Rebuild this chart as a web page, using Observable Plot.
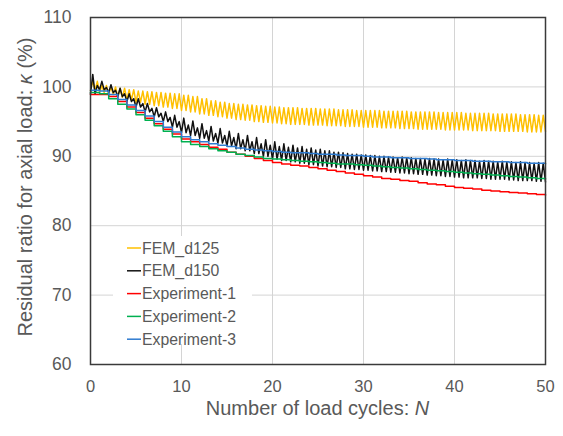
<!DOCTYPE html>
<html><head><meta charset="utf-8">
<script src="https://cdn.jsdelivr.net/npm/d3@7"></script>
<script src="https://cdn.jsdelivr.net/npm/@observablehq/plot@0.6"></script>
<style>html,body{margin:0;padding:0;background:#fff;}</style>
</head><body><div id="chart"></div>
<script>
// Load cycles N = 0..50
const cycles = [0,1,2,3,4,5,6,7,8,9,10,11,12,13,14,15,16,17,18,19,20,21,22,23,24,25,26,27,28,29,30,31,32,33,34,35,36,37,38,39,40,41,42,43,44,45,46,47,48,49,50];
const xTicks = [0,10,20,30,40,50];
const yTicks = [60,70,80,90,100,110];
const seriesNames = ["FEM_d125","FEM_d150","Experiment-1","Experiment-2","Experiment-3"];
const seriesColors = ["#FFC000","#111111","#FF0000","#00B050","#2E7BD0"];

// Experiments: residual ratio during each cycle (step lines)
const exp1 = [98.9,98.9,98.6,97.9,97.1,96.3,95.5,94.7,93.9,93.2,92.5,92.1,91.7,91.3,91.0,90.6,90.3,90.0,89.7,89.4,89.1,88.9,88.7,88.6,88.4,88.2,88.0,87.8,87.6,87.4,87.2,87.0,86.8,86.7,86.5,86.4,86.2,86.0,85.9,85.7,85.5,85.4,85.3,85.1,85.0,84.9,84.8,84.7,84.6,84.5,84.4];
const exp2 = [99.2,99.0,98.3,97.5,96.8,96.0,95.2,94.4,93.6,92.8,92.1,91.7,91.4,91.1,90.8,90.6,90.3,90.1,89.9,89.7,89.6,89.5,89.4,89.3,89.2,89.1,89.0,88.9,88.9,88.8,88.7,88.6,88.5,88.4,88.3,88.2,88.1,88.0,87.9,87.8,87.7,87.6,87.5,87.4,87.3,87.2,87.1,87.0,86.9,86.8,86.7];
const exp3 = [99.5,99.4,98.9,98.2,97.4,96.6,95.8,95.0,94.2,93.5,92.8,92.4,92.1,91.8,91.6,91.4,91.2,91.0,90.9,90.8,90.7,90.6,90.5,90.5,90.4,90.3,90.3,90.2,90.1,90.1,90.0,89.9,89.9,89.8,89.8,89.7,89.7,89.6,89.5,89.5,89.4,89.4,89.3,89.3,89.2,89.2,89.1,89.1,89.0,89.0,88.9];

// FEM_d125: per-cycle crest and trough values of the oscillation
const fem125Upper = [100.8,100.2,100.0,99.8,99.6,99.4,99.3,99.2,99.1,99.0,98.8,98.6,98.3,98.0,97.8,97.6,97.5,97.4,97.3,97.2,97.1,97.0,97.0,96.9,96.9,96.8,96.8,96.7,96.7,96.6,96.6,96.6,96.5,96.5,96.5,96.4,96.4,96.4,96.3,96.3,96.3,96.2,96.2,96.2,96.1,96.1,96.1,96.0,96.0,95.9,95.9];
const fem125Lower = [99.5,99.2,98.9,98.5,98.1,97.8,97.5,97.3,97.1,96.9,96.6,96.4,96.1,95.9,95.7,95.5,95.3,95.2,95.0,94.9,94.8,94.7,94.6,94.6,94.5,94.5,94.4,94.4,94.3,94.3,94.2,94.2,94.1,94.1,94.0,94.0,93.9,93.9,93.9,93.8,93.8,93.8,93.7,93.7,93.7,93.6,93.6,93.6,93.5,93.5,93.6];

// FEM_d150: per-cycle major crest, minor crest and trough
const fem150Major = [101.8,100.8,100.3,99.8,99.0,98.3,97.6,97.0,96.4,95.9,95.5,95.1,94.7,94.3,94.0,93.6,93.3,93.0,92.7,92.4,92.1,91.8,91.6,91.4,91.2,91.0,90.8,90.6,90.4,90.3,90.2,90.1,90.0,89.9,89.9,89.8,89.7,89.7,89.6,89.6,89.5,89.5,89.4,89.4,89.3,89.3,89.2,89.2,89.1,89.1,89.0];
const fem150Minor = [100.2,99.9,99.5,99.0,98.3,97.6,96.9,96.2,95.6,95.0,94.5,94.1,93.7,93.3,93.0,92.7,92.4,92.1,91.8,91.6,91.4,91.3,91.2,91.0,90.9,90.8,90.6,90.5,90.3,90.2,90.1,90.0,89.9,89.8,89.8,89.7,89.6,89.6,89.5,89.5,89.4,89.4,89.3,89.3,89.2,89.2,89.1,89.1,89.0,89.0,88.9];
const fem150Trough = [99.0,99.6,99.2,98.6,97.9,97.1,96.4,95.7,95.0,94.2,93.4,93.0,92.6,92.2,91.9,91.5,91.1,90.8,90.4,90.0,89.6,89.4,89.2,89.0,88.8,88.6,88.5,88.4,88.2,88.1,88.0,87.9,87.8,87.7,87.6,87.5,87.4,87.3,87.2,87.1,87.0,86.9,86.9,86.8,86.7,86.7,86.6,86.5,86.5,86.4,86.3];

// Build tables
function oscTable(troughs, crestA, crestB) {
  const rows = [];
  for (let i = 0; i < cycles.length - 1; i++) {
    const n = cycles[i];
    rows.push({N: n, k: troughs[i]});
    rows.push({N: n + 0.25, k: crestA[i]});
    rows.push({N: n + 0.5, k: troughs[i]});
    rows.push({N: n + 0.75, k: crestB[i]});
  }
  rows.push({N: cycles[cycles.length - 1], k: troughs[troughs.length - 1]});
  return rows;
}
const fem125 = oscTable(fem125Lower, fem125Upper, fem125Upper);
const fem150 = oscTable(fem150Trough, fem150Major, fem150Minor);
const expTable = vals => cycles.map((n, i) => ({N: n, k: vals[i]}));

const font = "'Liberation Sans', Arial, sans-serif";
const grey = "#595959";

const chart = Plot.plot({
  width: 563, height: 436,
  marginLeft: 90, marginRight: 18, marginTop: 17, marginBottom: 72,
  style: {fontFamily: font, background: "#fff", color: grey},
  x: {domain: [0, 50]},
  y: {domain: [60, 110]},
  marks: [
    Plot.gridX(xTicks.slice(1, -1), {stroke: "#d4d4d4", strokeOpacity: 1}),
    Plot.gridY(yTicks.slice(1, -1), {stroke: "#d4d4d4", strokeOpacity: 1}),
    Plot.axisX(xTicks, {tickSize: 0, tickPadding: 16, fontSize: 16.5, fill: grey, label: null}),
    Plot.axisY(yTicks, {tickSize: 0, tickPadding: 19, fontSize: 17.5, fill: grey, label: null}),
    Plot.lineY(fem125, {x: "N", y: "k", stroke: seriesColors[0], strokeWidth: 1.5}),
    Plot.lineY(fem150, {x: "N", y: "k", stroke: seriesColors[1], strokeWidth: 1.5}),
    Plot.lineY(expTable(exp1), {x: "N", y: "k", stroke: seriesColors[2], strokeWidth: 1.5, curve: "step-after"}),
    Plot.lineY(expTable(exp2), {x: "N", y: "k", stroke: seriesColors[3], strokeWidth: 1.5, curve: "step-after"}),
    Plot.lineY(expTable(exp3), {x: "N", y: "k", stroke: seriesColors[4], strokeWidth: 1.5, curve: "step-after"}),
    Plot.frame({stroke: "#3a3a3a", strokeWidth: 1.5})
  ]
});

const svg = d3.select(chart);
// Axis titles
svg.append("text")
  .attr("x", 317.5).attr("y", 415)
  .attr("text-anchor", "middle")
  .attr("font-size", 20).attr("fill", grey).attr("font-family", font)
  .call(t => { t.append("tspan").text("Number of load cycles: "); t.append("tspan").attr("font-style", "italic").text("N"); });
svg.append("text")
  .attr("transform", "translate(32,187) rotate(-90)")
  .attr("text-anchor", "middle")
  .attr("font-size", 20).attr("fill", grey).attr("font-family", font)
  .call(t => { t.append("tspan").text("Residual ratio for axial load: "); t.append("tspan").attr("font-style", "italic").text("κ"); t.append("tspan").text(" (%)"); });

// Legend
const lg = svg.append("g").attr("text-anchor", "start");
lg.append("rect").attr("x", 113).attr("y", 236).attr("width", 139).attr("height", 108).attr("fill", "#fff");
seriesNames.forEach((name, i) => {
  const cy = 248 + i * 22.8;
  lg.append("line").attr("x1", 127).attr("x2", 141).attr("y1", cy).attr("y2", cy)
    .attr("stroke", seriesColors[i]).attr("stroke-width", 1.5);
  lg.append("text").attr("x", 142).attr("y", cy).attr("dy", "0.36em").attr("text-anchor", "start")
    .attr("font-size", 15.8).attr("fill", grey).attr("font-family", font).text(name);
});

document.getElementById("chart").appendChild(chart);
</script>
</body></html>
